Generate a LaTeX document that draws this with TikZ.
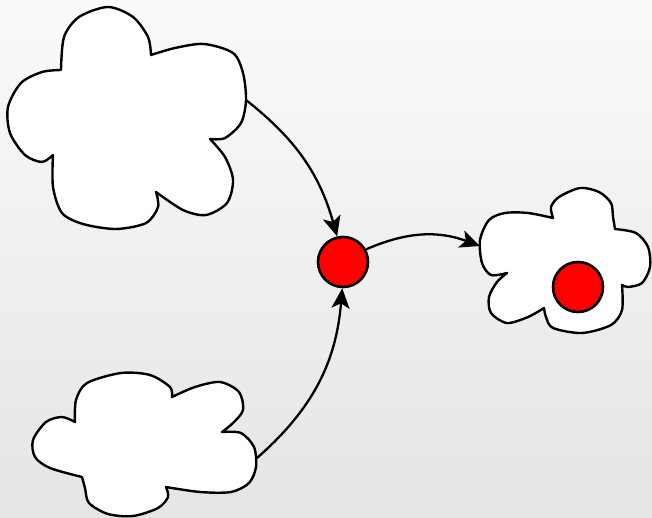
\documentclass[tikz,border=0pt]{standalone}
\usetikzlibrary{arrows.meta}

\definecolor{bgtop}{RGB}{250,250,250}
\definecolor{bgbottom}{RGB}{229,229,229}

\begin{document}
\begin{tikzpicture}[x=1pt,y=1pt,
	cloudline/.style={draw=black, line width=2.4pt, fill=white, line join=round},
	dot/.style={draw=black, line width=2.6pt, circle, fill=red, minimum size=50pt, inner sep=0pt},
	link/.style={-{Stealth[length=20pt,width=18pt,inset=5pt]}, line width=2.3pt}]

	% backdrop
	\shade[top color=bgtop, bottom color=bgbottom] (0,0) rectangle (652,-518);
	\useasboundingbox (0,0) rectangle (652,-518);

	% upper left cloud
	\filldraw[cloudline] (61,-70)
	 -- plot[smooth] coordinates {(61,-70) (64,-37) (79,-17) (108,-7) (133,-17) (148,-37) (151,-55)}
	 -- plot[smooth] coordinates {(151,-55) (175,-48) (204,-44) (233,-53) (243,-73) (246,-100) (241,-123) (225,-138) (210,-139)}
	 -- plot[smooth] coordinates {(210,-139) (225,-157) (233,-180) (227,-203) (206,-215) (183,-210) (156,-192)}
	 -- plot[smooth] coordinates {(156,-192) (158,-207) (146,-223) (116,-229) (83,-224) (62,-213) (53,-187) (53,-155)}
	 -- plot[smooth] coordinates {(53,-155) (42,-162) (25,-155) (10,-133) (8,-107) (21,-83) (42,-72) (61,-70)}
	 -- cycle;
	\coordinate (c1out) at (246,-100);

	% lower left cloud
	\filldraw[cloudline] (75,-422)
	 -- plot[smooth] coordinates {(75,-422) (76,-400) (87,-383) (121,-373) (150,-375) (170,-387) (172,-397)}
	 -- plot[smooth] coordinates {(172,-397) (195,-387) (220,-382) (239,-392) (243,-410) (233,-423) (222,-432)}
	 -- plot[smooth] coordinates {(222,-432) (241,-433) (254,-447) (256,-467) (249,-483) (231,-492) (200,-492) (166,-487)}
	 -- plot[smooth] coordinates {(166,-487) (168,-497) (158,-508) (133,-516) (108,-514) (89,-503) (85,-488) (82,-477)}
	 -- plot[smooth] coordinates {(82,-477) (50,-468) (35,-457) (33,-440) (46,-422) (62,-417) (75,-422)}
	 -- cycle;
	\coordinate (c3out) at (257,-458);

	% right cloud
	\filldraw[cloudline] (553,-218)
	 -- plot[smooth] coordinates {(553,-218) (551,-207) (559,-197) (580,-188) (599,-192) (611,-203) (613,-217) (615,-229)}
	 -- plot[smooth] coordinates {(615,-229) (636,-233) (648,-247) (650,-267) (642,-283) (628,-287) (622,-285)}
	 -- plot[smooth] coordinates {(622,-285) (622,-310) (611,-325) (582,-333) (553,-328) (546,-317) (544,-308)}
	 -- plot[smooth] coordinates {(544,-308) (528,-317) (507,-323) (491,-313) (489,-297) (497,-282) (507,-273)}
	 -- plot[smooth] coordinates {(507,-273) (491,-275) (482,-263) (480,-240) (489,-220) (505,-213) (528,-213) (553,-218)}
	 -- cycle;
	\coordinate (c2in) at (480,-246);

	% red points
	\node[dot] (hub) at (343,-262) {};
	\node[dot] (inner) at (578,-287) {};

	% connectors
	\draw[link] (c1out) to[bend left=18] (hub);
	\draw[link] (c3out) to[bend right=22] (hub);
	\draw[link] (hub) to[bend left=22] (c2in);
\end{tikzpicture}
\end{document}
